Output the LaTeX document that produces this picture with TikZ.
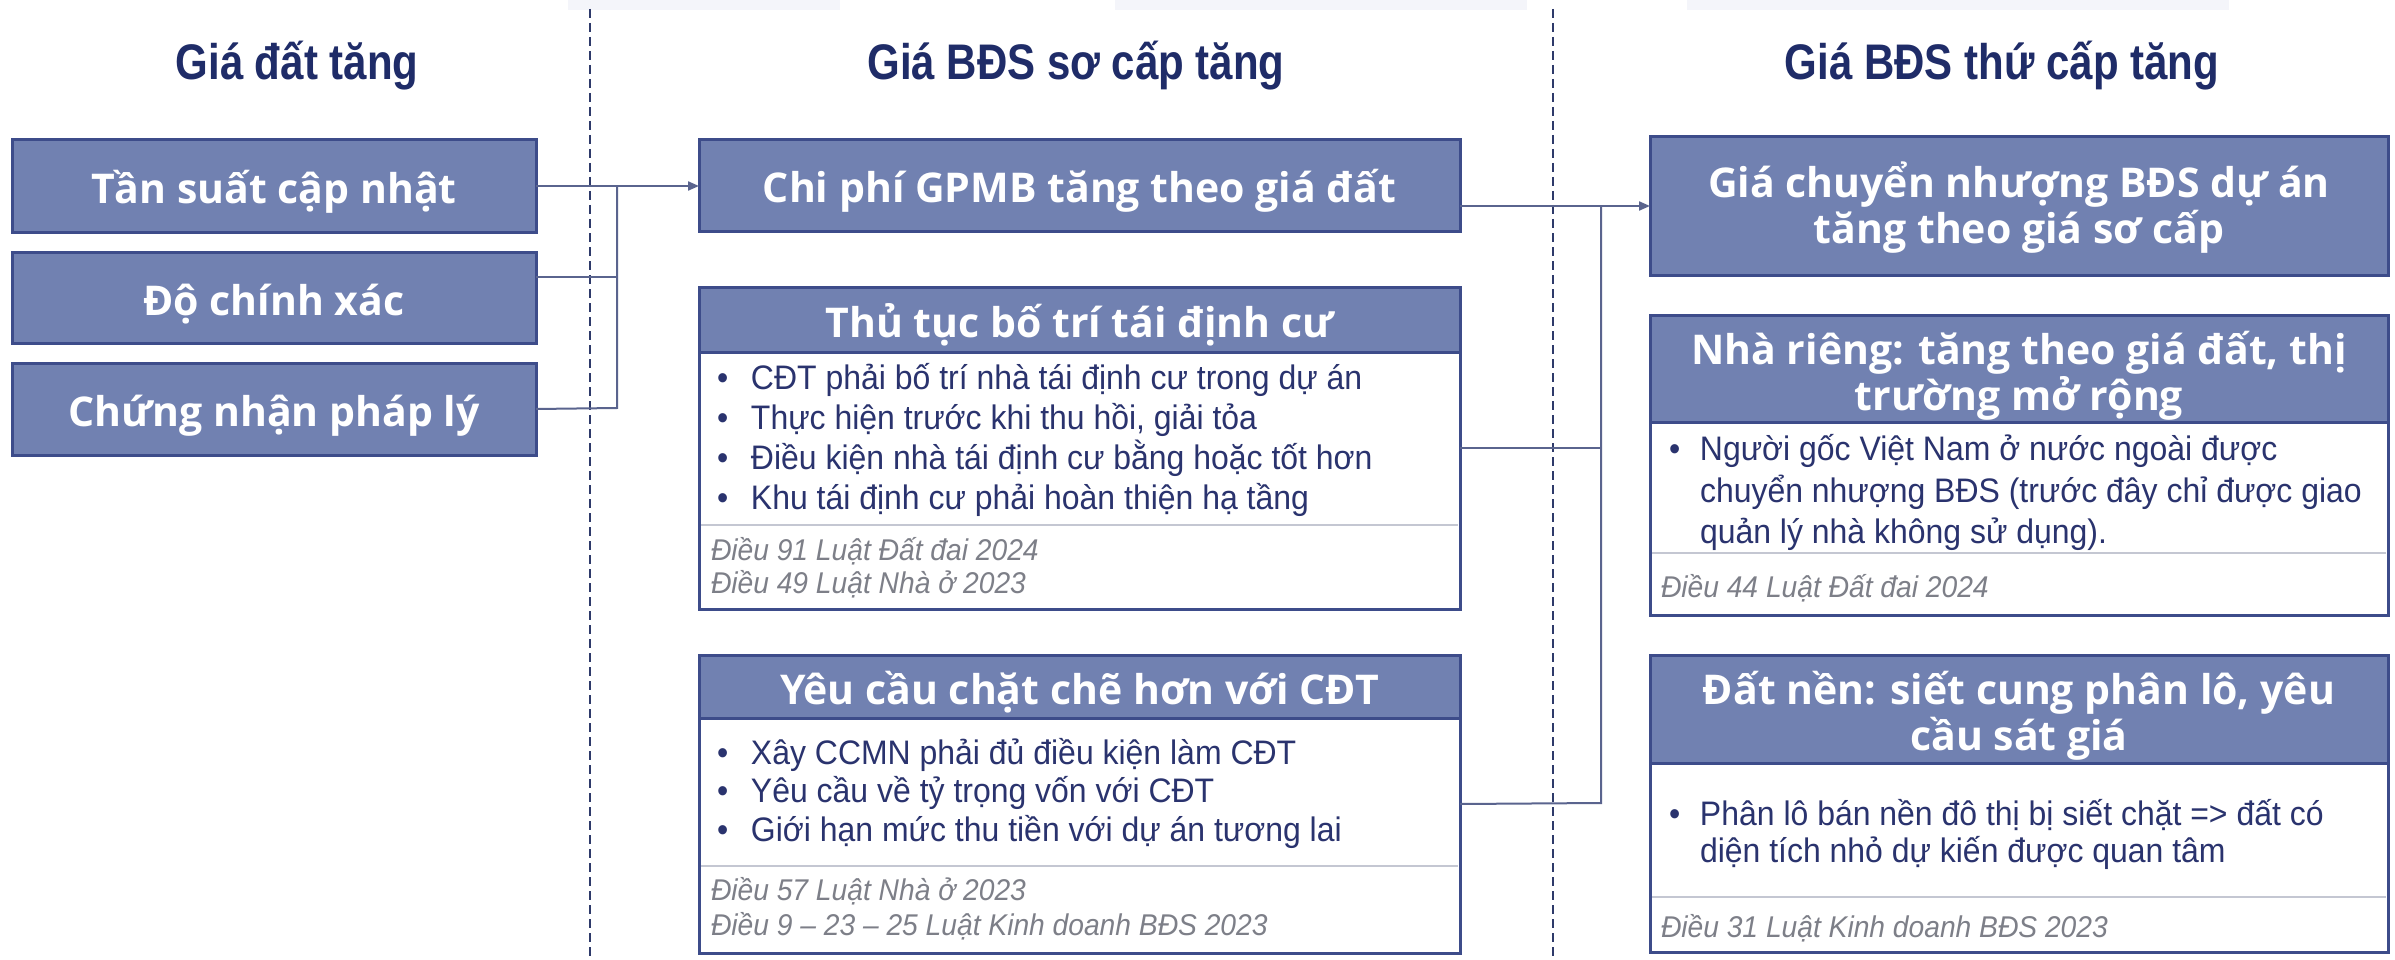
\documentclass[tikz,border=0pt]{standalone}
\usepackage{fontspec}
\setmainfont{Liberation Sans}
\newfontfamily\hdfont{Open Sans}
\newfontfamily\titlefont{Liberation Sans}[FakeStretch=0.84]
\newfontfamily\bodyfont{Liberation Sans}[FakeStretch=0.94]
\usetikzlibrary{arrows.meta}
\definecolor{boxfill}{HTML}{7181B1}
\definecolor{boxline}{HTML}{3D4C8A}
\definecolor{titlecol}{HTML}{1F2C68}
\definecolor{bodycol}{HTML}{2A336E}
\definecolor{notecol}{HTML}{7D7F88}
\definecolor{linkcol}{HTML}{5A648E}
\definecolor{divcol}{HTML}{C4C7D2}
\definecolor{dashcol}{HTML}{2E3A6A}
\definecolor{ghost}{HTML}{F4F5FA}
\newcommand\bulx[1]{\makebox[#1][l]{\textbullet}}
\tikzset{
  every node/.style={inner sep=0pt, outer sep=0pt},
  hdfontstyle/.style={font=\hdfont\bfseries\fontsize{41}{46}\selectfont},
  onetext/.style={text height=43pt, text depth=8pt},
  solidbox/.style={draw=boxline, line width=3pt, fill=boxfill, text=white, hdfontstyle, align=center},
  framebox/.style={draw=boxline, line width=3pt, fill=white},
  headbox/.style={draw=boxline, line width=3pt, fill=boxfill, text=white, hdfontstyle, align=center},
  headtext/.style={text=white, hdfontstyle, align=center},
  coltitle/.style={text=titlecol, font=\titlefont\bfseries\fontsize{50}{56}\selectfont},
  bodyline/.style={anchor=base west, text=bodycol, font=\bodyfont\fontsize{34}{40}\selectfont},
  noteline/.style={anchor=base west, text=notecol, font=\bodyfont\itshape\fontsize{30}{34}\selectfont},
  link/.style={draw=linkcol, line width=2pt},
  linkarrow/.style={link, -{Triangle[length=11pt,width=9pt]}},
  divider/.style={draw=divcol, line width=2.5pt},
  sepline/.style={draw=dashcol, line width=2.5pt, dash pattern=on 9pt off 5pt},
}
\begin{document}
\begin{tikzpicture}[x=1pt, y=-1pt]
\useasboundingbox (0,0) rectangle (2395,960);
\fill[white] (0,0) rectangle (2395,960);
% faint strips at the top
\fill[ghost] (568,0) rectangle (840,10);
\fill[ghost] (1115,0) rectangle (1527,10);
\fill[ghost] (1687,0) rectangle (2229,10);
% column separators
\draw[sepline] (590,9) -- (590,960);
\draw[sepline] (1553,9) -- (1553,960);
% titles
\node[coltitle] (t1) at (297,66) {Giá đất tăng};
\node[coltitle] (t2) at (1076,66) {Giá BĐS sơ cấp tăng};
\node[coltitle] (t3) at (2002,66) {Giá BĐS thứ cấp tăng};
% left column
\node[solidbox, onetext, minimum width=524pt, minimum height=92pt] (a1) at (274,186) {Tần suất cập nhật};
\node[solidbox, onetext, minimum width=524pt, minimum height=91pt] (a2) at (274,297.5) {Độ chính xác};
\node[solidbox, onetext, minimum width=524pt, minimum height=92pt] (a3) at (274,409) {Chứng nhận pháp lý};
% middle column
\node[solidbox, onetext, minimum width=761pt, minimum height=91pt] (gpmb) at (1079.5,185.5) {Chi phí GPMB tăng theo giá đất};
\node[framebox, minimum width=761pt, minimum height=322pt] (thu) at (1079.5,448) {};
\node[headbox, onetext, minimum width=761pt, minimum height=65pt] (thuh) at (1079.5,319.5) {Thủ tục bố trí tái định cư};
\draw[divider] (701,525) -- (1458,525);
\node[bodyline] (thu1) at (717,389) {\bulx{34pt}CĐT phải bố trí nhà tái định cư trong dự án};
\node[bodyline] (thu2) at (717,429) {\bulx{34pt}Thực hiện trước khi thu hồi, giải tỏa};
\node[bodyline] (thu3) at (717,469) {\bulx{34pt}Điều kiện nhà tái định cư bằng hoặc tốt hơn};
\node[bodyline] (thu4) at (717,509) {\bulx{34pt}Khu tái định cư phải hoàn thiện hạ tầng};
\node[noteline] (thun1) at (711,560) {Điều 91 Luật Đất đai 2024};
\node[noteline] (thun2) at (711,593) {Điều 49 Luật Nhà ở 2023};
\node[framebox, minimum width=761pt, minimum height=298pt] (yeu) at (1079.5,804) {};
\node[headbox, onetext, minimum width=761pt, minimum height=63pt] (yeuh) at (1079.5,686.5) {Yêu cầu chặt chẽ hơn với CĐT};
\draw[divider] (701,866) -- (1458,866);
\node[bodyline] (yeu1) at (717,764) {\bulx{34pt}Xây CCMN phải đủ điều kiện làm CĐT};
\node[bodyline] (yeu2) at (717,802) {\bulx{34pt}Yêu cầu về tỷ trọng vốn với CĐT};
\node[bodyline] (yeu3) at (717,841) {\bulx{34pt}Giới hạn mức thu tiền với dự án tương lai};
\node[noteline] (yeun1) at (711,900) {Điều 57 Luật Nhà ở 2023};
\node[noteline] (yeun2) at (711,935) {Điều 9 – 23 – 25 Luật Kinh doanh BĐS 2023};
% right column
\node[solidbox, minimum width=738pt, minimum height=138pt] (gcn) at (2019,206) {};
\node[headtext] (gcnt) at (2019,208) {Giá chuyển nhượng BĐS dự án\\tăng theo giá sơ cấp};
\node[framebox, minimum width=738pt, minimum height=300pt] (nha) at (2019,465) {};
\node[headbox, minimum width=738pt, minimum height=107pt] (nhah) at (2019,368.5) {};
\node[headtext] (nhat) at (2019,376) {Nhà riêng: tăng theo giá đất, thị\\trường mở rộng};
\draw[divider] (1652,553) -- (2386,553);
\node[bodyline] (nha1) at (1669,460) {\bulx{31pt}Người gốc Việt Nam ở nước ngoài được};
\node[bodyline] (nha2) at (1700,502) {chuyển nhượng BĐS (trước đây chỉ được giao};
\node[bodyline] (nha3) at (1700,543) {quản lý nhà không sử dụng).};
\node[noteline] (nhan1) at (1661,597) {Điều 44 Luật Đất đai 2024};
\node[framebox, minimum width=738pt, minimum height=297pt] (dat) at (2019,803.5) {};
\node[headbox, minimum width=738pt, minimum height=108pt] (dath) at (2019,709) {};
\node[headtext] (datt) at (2019,716) {Đất nền: siết cung phân lô, yêu\\cầu sát giá};
\draw[divider] (1652,897) -- (2386,897);
\node[bodyline] (dat1) at (1669,825) {\bulx{31pt}Phân lô bán nền đô thị bị siết chặt => đất có};
\node[bodyline] (dat2) at (1700,862) {diện tích nhỏ dự kiến được quan tâm};
\node[noteline] (datn1) at (1661,937) {Điều 31 Luật Kinh doanh BĐS 2023};
% connectors left -> middle
\coordinate (b1) at (617,186);
\coordinate (b2) at (617,408);
\draw[linkarrow] (a1.east) -- (a1.east -| gpmb.west);
\draw[link] ([yshift=21pt]a2.east) -- ([yshift=21pt]a2.east -| b1);
\draw[link] (a3.east) -- (b2) -- (b1);
% connectors middle -> right
\coordinate (c1) at (1601,206);
\coordinate (c2) at (1601,803);
\draw[linkarrow] (gpmb.east |- gcn.west) -- (gcn.west);
\draw[link] (thu.east) -- (thu.east -| c1);
\draw[link] (yeu.east) -- (c2) -- (c1);
\end{tikzpicture}
\end{document}
